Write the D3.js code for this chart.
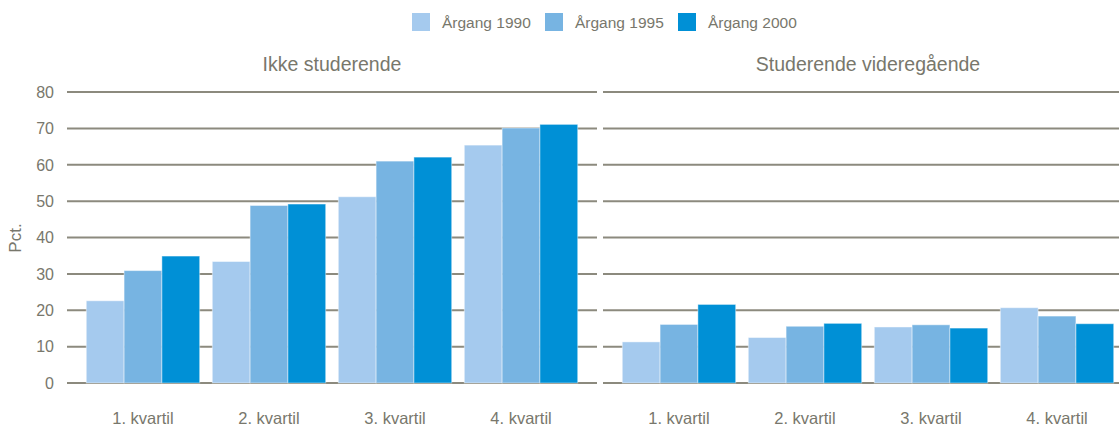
<!DOCTYPE html>
<html>
<head>
<meta charset="utf-8">
<script src="https://cdn.jsdelivr.net/npm/d3@7"></script>
<style>
  body { margin: 0; background: #fff; }
  svg { display: block; font-family: "Liberation Sans", Arial, sans-serif; }
</style>
</head>
<body>
<svg id="chart" width="1119" height="427"></svg>
<script>
// =========================
// DATA
// =========================
const kvartiler = ["1. kvartil", "2. kvartil", "3. kvartil", "4. kvartil"];
const aargange = ["Årgang 1990", "Årgang 1995", "Årgang 2000"];
const panelTitler = ["Ikke studerende", "Studerende videregående"];
const yTicks = [0, 10, 20, 30, 40, 50, 60, 70, 80];

// verdier pr. kvartil: [1990, 1995, 2000]
const ikkeStuderende = [
  [22.6, 30.9, 34.9],
  [33.4, 48.8, 49.2],
  [51.2, 61.0, 62.1],
  [65.4, 70.1, 71.1]
];
const studerendeVgs = [
  [11.3, 16.1, 21.6],
  [12.5, 15.6, 16.4],
  [15.4, 16.0, 15.1],
  [20.7, 18.4, 16.3]
];

const colors = ["#a5caee", "#77b4e2", "#0090d6"];
const gridColor = "#8c8a7e";
const textColor = "#78776c";

// =========================
// LAYOUT
// =========================
const svg = d3.select("#chart");
const plotTop = 92, plotBottom = 383;
const panelWidth = 530;
const panels = [
  { x0: 67, title: panelTitler[0], data: ikkeStuderende },
  { x0: 603, title: panelTitler[1], data: studerendeVgs }
];

const y = d3.scaleLinear().domain([0, 80]).range([plotBottom, plotTop]);

// y-akse tekster
svg.append("g").selectAll("text")
  .data(yTicks)
  .join("text")
  .attr("x", 54)
  .attr("y", d => y(d))
  .attr("dy", "0.36em")
  .attr("text-anchor", "end")
  .attr("font-size", 16)
  .attr("fill", textColor)
  .text(d => d);

svg.append("text")
  .attr("transform", "translate(21,238) rotate(-90)")
  .attr("text-anchor", "middle")
  .attr("font-size", 17)
  .attr("fill", textColor)
  .text("Pct.");

// =========================
// PANELER
// =========================
panels.forEach(p => {
  const x = d3.scaleBand()
    .domain(kvartiler)
    .range([p.x0, p.x0 + panelWidth])
    .paddingInner(0.1)
    .paddingOuter(0.153);

  const xSub = d3.scaleBand()
    .domain(aargange)
    .range([0, x.bandwidth()]);

  const g = svg.append("g");

  // rutenett
  g.selectAll("line.grid")
    .data(yTicks)
    .join("line")
    .attr("class", "grid")
    .attr("x1", p.x0)
    .attr("x2", p.x0 + panelWidth)
    .attr("y1", d => y(d))
    .attr("y2", d => y(d))
    .attr("stroke", gridColor)
    .attr("stroke-width", 2);

  // søyler
  const groups = g.selectAll("g.grp")
    .data(p.data)
    .join("g")
    .attr("class", "grp")
    .attr("transform", (d, i) => `translate(${x(kvartiler[i])},0)`);

  groups.selectAll("rect")
    .data(d => d.map((v, j) => ({ key: aargange[j], value: v, j })))
    .join("rect")
    .attr("x", d => xSub(d.key))
    .attr("y", d => y(d.value))
    .attr("width", xSub.bandwidth())
    .attr("height", d => plotBottom - y(d.value))
    .attr("fill", d => colors[d.j])
    .attr("stroke", "#ffffff")
    .attr("stroke-opacity", 0.45)
    .attr("stroke-width", 1);

  // x-akse tekster
  g.selectAll("text.xlab")
    .data(kvartiler)
    .join("text")
    .attr("class", "xlab")
    .attr("x", d => x(d) + x.bandwidth() / 2)
    .attr("y", 424)
    .attr("text-anchor", "middle")
    .attr("font-size", 16.5)
    .attr("fill", textColor)
    .text(d => d);

  // tittel
  g.append("text")
    .attr("x", x(kvartiler[0]) + (x(kvartiler[3]) + x.bandwidth() - x(kvartiler[0])) / 2)
    .attr("y", 71)
    .attr("text-anchor", "middle")
    .attr("font-size", 19.5)
    .attr("fill", textColor)
    .text(p.title);
});

// =========================
// LEGENDE
// =========================
const legendX = [412, 545, 678];
const legend = svg.append("g").selectAll("g")
  .data(aargange)
  .join("g")
  .attr("transform", (d, i) => `translate(${legendX[i]},13)`);

legend.append("rect")
  .attr("width", 18)
  .attr("height", 18)
  .attr("fill", (d, i) => colors[i]);

legend.append("text")
  .attr("x", 30)
  .attr("y", 15)
  .attr("font-size", 15.5)
  .attr("fill", textColor)
  .text(d => d);
</script>
</body>
</html>
